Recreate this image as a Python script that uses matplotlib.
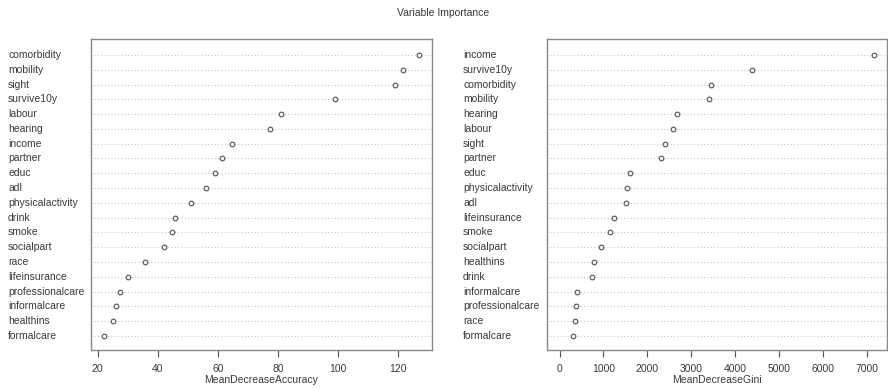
import matplotlib
matplotlib.use("Agg")
import matplotlib.pyplot as plt

plt.rcParams['font.family'] = ['Liberation Sans', 'DejaVu Sans']

# Mean decrease in accuracy, ordered from most to least important
acc_vars = ["comorbidity", "mobility", "sight", "survive10y", "labour", "hearing",
            "income", "partner", "educ", "adl", "physicalactivity", "drink", "smoke",
            "socialpart", "race", "lifeinsurance", "professionalcare", "informalcare",
            "healthins", "formalcare"]
acc_vals = [127.0, 121.7, 119.0, 99.0, 81.0, 77.3, 64.7, 61.5, 59.2, 56.0, 51.0,
            45.7, 44.8, 42.0, 35.9, 30.0, 27.3, 26.0, 25.2, 22.0]

# Mean decrease in Gini impurity, ordered from most to least important
gini_vars = ["income", "survive10y", "comorbidity", "mobility", "hearing", "labour",
             "sight", "partner", "educ", "physicalactivity", "adl", "lifeinsurance",
             "smoke", "socialpart", "healthins", "drink", "informalcare",
             "professionalcare", "race", "formalcare"]
gini_vals = [7175, 4396, 3462, 3394, 2665, 2574, 2392, 2300, 1600, 1525, 1510, 1230,
             1140, 934, 775, 729, 387, 364, 350, 296]

acc_ticks = [20, 40, 60, 80, 100, 120]
gini_ticks = [0, 1000, 2000, 3000, 4000, 5000, 6000, 7000]

W, H = 888, 390
fig = plt.figure(figsize=(W / 100, H / 100), dpi=100)
txt = "#3a3a3a"


def dotpanel(rect, names, vals, ticks, xmin, xlabel, label_x):
    ax = fig.add_axes(rect)
    n = len(names)
    ys = [n - i for i in range(n)]
    for y in ys:
        ax.axhline(y, color="#c8c8c8", lw=0.8, ls=(0, (1, 2)), zorder=1)
    ax.scatter(vals, ys, s=11, facecolors="white", edgecolors="#606060",
               linewidths=0.9, zorder=3)
    lo, hi = xmin, max(vals)
    pad = 0.04 * (hi - lo)
    ax.set_xlim(lo - pad, hi + pad)
    ax.set_ylim(0.05, n + 1.08)
    ax.set_yticks([])
    ax.set_xticks(ticks)
    ax.tick_params(axis="x", direction="out", length=5, width=0.8, colors="#555555",
                   labelcolor=txt, labelsize=7.5, pad=5)
    for s in ax.spines.values():
        s.set_color("#888888")
        s.set_linewidth(1.0)
    ax.set_xlabel(xlabel, fontsize=7.5, color=txt, labelpad=1)
    for name, y in zip(names, ys):
        yf = ax.transData.transform((0, y))[1]
        fig.text(label_x / W, yf / H, name, ha="left", va="center",
                 fontsize=7.5, color=txt)
    return ax


dotpanel([91 / W, 1 - 350 / H, 341 / W, 311 / H], acc_vars, acc_vals, acc_ticks,
         min(acc_vals), "MeanDecreaseAccuracy", 8)
dotpanel([547 / W, 1 - 350 / H, 340 / W, 311 / H], gini_vars, gini_vals, gini_ticks,
         0, "MeanDecreaseGini", 463)

fig.text(443 / W, 1 - 13 / H, "Variable Importance", ha="center", va="center",
         fontsize=7.5, color=txt)

fig.savefig("out.png", dpi=100)
